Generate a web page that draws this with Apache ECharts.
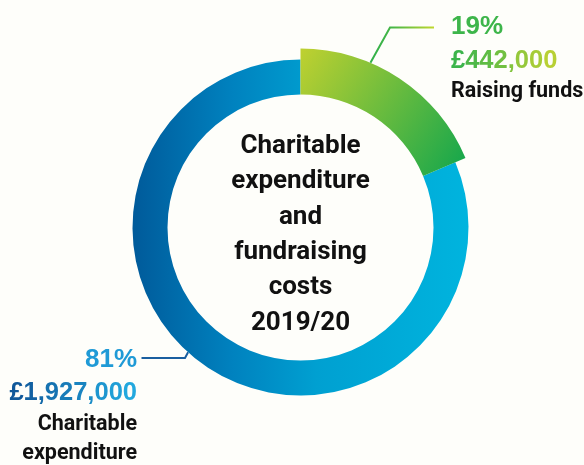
<!DOCTYPE html>
<html>
<head>
<meta charset="utf-8">
<script src="https://cdn.jsdelivr.net/npm/echarts@6/dist/echarts.min.js"></script>
<style>
html,body{margin:0;padding:0;background:#fefefa;}
#chart{width:584px;height:465px;}
</style>
</head>
<body>
<div id="chart"></div>
<script>
// ---- data ----
var categories = ['Raising funds', 'Charitable expenditure'];
var amounts = [442000, 1927000];
var labelNames = ['Raising funds', 'Charitable\nexpenditure'];
var centerTitle = ['Charitable', 'expenditure', 'and', 'fundraising', 'costs', '2019/20'];

// ---- style ----
var NARROW = "Roboto,'Liberation Sans',sans-serif";
var WIDE = "'Liberation Sans',Arial,sans-serif";
var CX = 300.5, CY = 227.5;

function hex(c){return [parseInt(c.substr(1,2),16),parseInt(c.substr(3,2),16),parseInt(c.substr(5,2),16)];}
function lerp(c1,c2,t){var a=hex(c1),b=hex(c2);return 'rgb('+a.map(function(v,i){return Math.round(v+(b[i]-v)*t);}).join(',')+')';}
function fmtMoney(v){return '£' + v.toString().replace(/\B(?=(\d{3})+(?!\d))/g, ',');}
function gradText(prefix, text, c1, c2, base, rich){
  var s = '';
  for (var i=0;i<text.length;i++){
    var key = prefix + i;
    rich[key] = Object.assign({}, base, {color: lerp(c1, c2, text.length>1 ? i/(text.length-1) : 0)});
    s += '{' + key + '|' + text[i] + '}';
  }
  return s;
}
function pt(r, degFromTop){var a=degFromTop*Math.PI/180;return [CX + r*Math.sin(a), CY - r*Math.cos(a)];}

var numBase = {fontFamily: WIDE, fontWeight: 'bold', fontSize: 25.5, lineHeight: 33};
var richG = {
  p: {fontFamily: WIDE, fontWeight: 'bold', fontSize: 26, lineHeight: 35, color: '#3db54a'},
  n: {fontFamily: NARROW, fontWeight: 'bold', fontSize: 21.5, lineHeight: 28, color: '#111111'}
};
var richB = {
  p: {fontFamily: WIDE, fontWeight: 'bold', fontSize: 26, lineHeight: 32, color: '#1f9ad6', align: 'right'},
  n: {fontFamily: NARROW, fontWeight: 'bold', fontSize: 21.5, lineHeight: 31, color: '#111111', align: 'right'},
  m: {fontFamily: NARROW, fontWeight: 'bold', fontSize: 21.5, lineHeight: 28, color: '#111111', align: 'right'}
};
var gValue = gradText('g', fmtMoney(amounts[0]), '#3cb44b', '#b8d034', numBase, richG);
var bValue = gradText('b', fmtMoney(amounts[1]), '#10589a', '#22a8de', Object.assign({align:'right', lineHeight: 32}, numBase), richB);

var blueGrad = new echarts.graphic.LinearGradient(132, 0, 468, 0, [
  {offset: 0, color: '#005a9a'},
  {offset: 0.3, color: '#0082bf'},
  {offset: 0.55, color: '#00a0d1'},
  {offset: 1, color: '#00b4de'}
], true);
var greenGrad = new echarts.graphic.LinearGradient(300, 55, 465, 165, [
  {offset: 0, color: '#bdd030'},
  {offset: 1, color: '#16a74c'}
], true);
var greenLine = new echarts.graphic.LinearGradient(0, 0, 1, 0, [
  {offset: 0, color: '#2fb04a'},
  {offset: 0.35, color: '#45b647'},
  {offset: 1, color: '#c8da2c'}
]);

function makeData(showIdx){
  return categories.map(function(c, i){
    var visible = i === showIdx;
    return {
      name: c,
      value: amounts[i],
      itemStyle: {color: visible ? (i === 0 ? greenGrad : blueGrad) : 'rgba(0,0,0,0)'},
      label: {show: visible},
      labelLine: {show: visible}
    };
  });
}

var option = {
  backgroundColor: '#fefefa',
  animation: false,
  title: {
    text: centerTitle.join('\n'),
    left: CX, top: 129, textAlign: 'center', padding: 0,
    textStyle: {fontFamily: NARROW, fontWeight: 'bold', fontSize: 26, lineHeight: 35.3, color: '#111111'}
  },
  series: [
    {
      type: 'pie', silent: true, center: [CX, CY], radius: [133, 168],
      startAngle: 90, clockwise: true, avoidLabelOverlap: false,
      emphasis: {disabled: true},
      data: makeData(1),
      label: {
        position: 'outside',
        formatter: function(p){ return '{p|' + Math.round(p.percent) + '%}\n' + bValue + '\n{n|Charitable}\n{m|expenditure}'; },
        rich: richB
      },
      labelLine: {lineStyle: {color: '#1a5fa0', width: 2}},
      labelLayout: function(){
        var s = pt(168, 222);
        return {x: 137, y: 344, align: 'right', verticalAlign: 'top',
          labelLinePoints: [s, [185, 358], [141.5, 358]]};
      }
    },
    {
      type: 'pie', silent: true, center: [CX, CY], radius: [133, 179],
      startAngle: 90, clockwise: true, avoidLabelOverlap: false,
      emphasis: {disabled: true},
      data: makeData(0),
      label: {
        position: 'outside',
        formatter: function(p){ return '{p|' + Math.round(p.percent) + '%}\n' + gValue + '\n{n|' + labelNames[0] + '}'; },
        rich: richG
      },
      labelLine: {lineStyle: {color: greenLine, width: 2}},
      labelLayout: function(){
        var s = pt(179, 23);
        return {x: 451, y: 9.5, align: 'left', verticalAlign: 'top',
          labelLinePoints: [s, [390, 27.5], [434, 27.5]]};
      }
    }
  ]
};
var chart = echarts.init(document.getElementById('chart'), null, {renderer: 'canvas'});
chart.setOption(option);
</script>
</body>
</html>
